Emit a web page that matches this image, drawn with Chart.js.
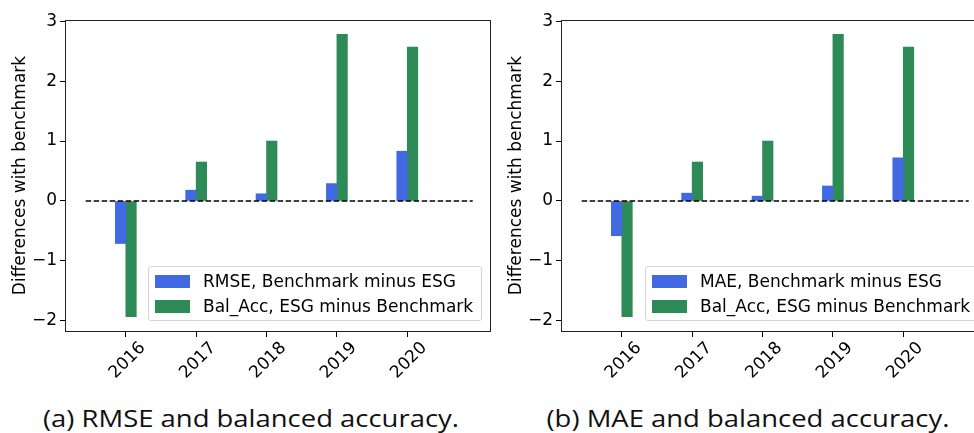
<!DOCTYPE html>
<html>
<head>
<meta charset="utf-8">
<script src="https://cdn.jsdelivr.net/npm/chart.js@4"></script>
<style>
  html, body { margin: 0; padding: 0; background: #fff; }
  body { width: 974px; height: 433px; position: relative; overflow: hidden; }
  .panel { position: absolute; top: 0; width: 492px; height: 390px; }
  .legend { position: absolute; top: 266px; width: 334px; height: 55px; box-sizing: border-box;
            border: 1px solid #d4d4d4; border-radius: 3px; background: rgba(255,255,255,0.8);
            font-family: "DejaVu Sans", sans-serif; font-size: 17px; color: #000; }
  .row { position: absolute; left: 0; height: 25px; line-height: 25px; white-space: nowrap; }
  .sw { position: absolute; left: 6px; top: 6px; width: 35px; height: 12.5px; }
  .txt { position: absolute; left: 54px; top: 0; }
  .caption { position: absolute; top: 401px; font-family: "Open Sans", sans-serif; font-size: 24.5px;
             color: #111; white-space: nowrap; transform: translateX(-50%) scaleX(1.12); }
</style>
</head>
<body>
<div class="panel" style="left:0px"><canvas id="left"></canvas></div>
<div class="panel" style="left:496px"><canvas id="right"></canvas></div>
<div class="legend" id="legLeft" style="left:148px"></div>
<div class="legend" id="legRight" style="left:645px"></div>
<div class="caption" style="left:251px">(a) RMSE and balanced accuracy.</div>
<div class="caption" style="left:748px">(b) MAE and balanced accuracy.</div>
<script>
// values
var years = ['2016', '2017', '2018', '2019', '2020'];
var rmseDiff = [-0.71, 0.18, 0.12, 0.29, 0.83];
var maeDiff = [-0.58, 0.13, 0.08, 0.25, 0.72];
var balAccDiff = [-1.93, 0.65, 1.00, 2.78, 2.57];
var yTicks = [-2, -1, 0, 1, 2, 3];
var zeroLineSpan = [-0.57, 4.93];

var BLUE = '#4169E1';
var GREEN = '#2E8B57';
var tickFont = { family: 'DejaVu Sans', size: 17 };

// box around the plot area, like matplotlib spines
var frame = {
  id: 'frame',
  afterDraw: function(chart) {
    var a = chart.chartArea, ctx = chart.ctx;
    ctx.save();
    ctx.strokeStyle = '#222';
    ctx.lineWidth = 1;
    ctx.strokeRect(Math.round(a.left) - 0.5, Math.round(a.top) + 0.5,
                   Math.round(a.right - a.left), Math.round(a.bottom - a.top));
    ctx.restore();
  }
};

function makeChart(id, blueVals, blueLabel) {
  var ctx = document.getElementById(id).getContext('2d');
  return new Chart(ctx, {
    type: 'bar',
    data: {
      datasets: [
        {
          label: blueLabel,
          backgroundColor: BLUE,
          data: years.map(function(y, i) { return { x: i, y: blueVals[i] }; }),
          barThickness: 10.5,
          order: 1
        },
        {
          label: 'Bal_Acc, ESG minus Benchmark',
          backgroundColor: GREEN,
          data: years.map(function(y, i) { return { x: i, y: balAccDiff[i] }; }),
          barThickness: 10.5,
          order: 1
        },
        {
          type: 'line',
          label: 'zero',
          data: zeroLineSpan.map(function(x) { return { x: x, y: 0 }; }),
          borderColor: '#000',
          borderWidth: 1.4,
          borderDash: [5.5, 2.5],
          pointRadius: 0,
          order: 0
        }
      ]
    },
    options: {
      responsive: true,
      maintainAspectRatio: false,
      animation: false,
      layout: { padding: { top: 20, right: 1, left: 0, bottom: 0 } },
      plugins: { legend: { display: false }, tooltip: { enabled: false } },
      scales: {
        x: {
          type: 'linear',
          offset: false,
          min: -0.85,
          max: 5.19,
          afterBuildTicks: function(scale) {
            scale.ticks = years.map(function(y, i) { return { value: i }; });
          },
          afterFit: function(scale) { scale.height = 59; },
          ticks: {
            autoSkip: false,
            minRotation: 45,
            maxRotation: 45,
            padding: 1,
            labelOffset: 17,
            color: '#000',
            font: tickFont,
            callback: function(v) { return years[v]; }
          },
          grid: { display: true, offset: false, drawOnChartArea: false, drawTicks: true, tickLength: 6, tickColor: '#000' },
          border: { display: false }
        },
        y: {
          min: -2.17,
          max: 3.02,
          afterBuildTicks: function(scale) {
            scale.ticks = yTicks.map(function(v) { return { value: v }; });
          },
          afterFit: function(scale) { scale.width = 66; },
          ticks: {
            padding: 3,
            color: '#000',
            font: tickFont,
            callback: function(v) { return String(v).replace('-', '\u2212'); }
          },
          grid: { display: true, drawOnChartArea: false, drawTicks: true, tickLength: 6, tickColor: '#000' },
          border: { display: false },
          title: {
            display: true,
            text: 'Differences with benchmark',
            color: '#000',
            font: tickFont,
            padding: { top: 10, bottom: 0 }
          }
        }
      }
    },
    plugins: [frame]
  });
}

function fillLegend(id, labels, colors) {
  var box = document.getElementById(id);
  labels.forEach(function(lab, i) {
    var row = document.createElement('div');
    row.className = 'row';
    row.style.top = (2 + i * 25) + 'px';
    row.innerHTML = '<span class="sw" style="background:' + colors[i] + '"></span><span class="txt"></span>';
    row.querySelector('.txt').textContent = lab;
    box.appendChild(row);
  });
}

makeChart('left', rmseDiff, 'RMSE, Benchmark minus ESG');
makeChart('right', maeDiff, 'MAE, Benchmark minus ESG');
fillLegend('legLeft', ['RMSE, Benchmark minus ESG', 'Bal_Acc, ESG minus Benchmark'], [BLUE, GREEN]);
fillLegend('legRight', ['MAE, Benchmark minus ESG', 'Bal_Acc, ESG minus Benchmark'], [BLUE, GREEN]);
</script>
</body>
</html>
